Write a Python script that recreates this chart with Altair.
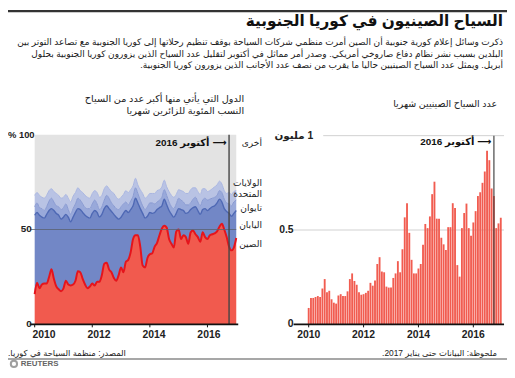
import altair as alt
import pandas as pd

# ---------------- data ----------------
months = pd.date_range("2010-01-01", "2017-01-01", freq="MS")

# Chinese visitors per month, millions
china_visitors = [
    0.087, 0.14, 0.14, 0.145, 0.15, 0.145, 0.19, 0.24, 0.17, 0.178, 0.133, 0.115,
    0.11, 0.153, 0.16, 0.15, 0.15, 0.175, 0.24, 0.27, 0.23, 0.21, 0.17, 0.157,
    0.16, 0.167, 0.178, 0.22, 0.205, 0.232, 0.32, 0.356, 0.28, 0.276, 0.2, 0.195,
    0.195, 0.246, 0.27, 0.335, 0.276, 0.398, 0.567, 0.642, 0.485, 0.342, 0.27, 0.27,
    0.296, 0.32, 0.422, 0.532, 0.51, 0.572, 0.69, 0.756, 0.56, 0.56, 0.459, 0.424,
    0.394, 0.515, 0.515, 0.642, 0.616, 0.314, 0.253, 0.51, 0.59, 0.64, 0.51, 0.47,
    0.54, 0.60, 0.68, 0.70, 0.75, 0.81, 0.92, 0.87, 0.72, 0.68, 0.51, 0.535,
    0.565,
]

# share of visitors, percent
china_share = [
    16, 22, 19, 21, 21.5, 21.5, 25, 29, 24, 20, 18.5, 17.5,
    19, 23, 21, 20.5, 21, 23, 28, 27.5, 24, 21, 19, 20,
    21.5, 20.5, 22.5, 22.5, 26, 32, 32.5, 29, 27.5, 24.5, 23, 26,
    30, 27.5, 33, 34, 38, 45, 47, 47, 41, 31, 30, 35,
    37, 37.5, 41, 43, 47, 50.5, 52, 51, 45, 42.5, 40.5, 49,
    50, 45, 47, 46, 42.5, 48.5, 49.5, 47.5, 46, 43.5, 48.5, 46,
    45, 47, 47.5, 48, 49, 51.5, 53, 50, 46, 41, 39, 40.5,
    45.5,
]
# upper edge of the Japan band (China + Japan), percent
china_japan_top = [
    57.5, 59, 57.5, 56.5, 56, 58, 60, 61, 60, 58.5, 57.5, 55.5,
    56.5, 58, 56.5, 54, 56.5, 59, 61, 60.5, 59, 57.5, 56.5, 56,
    58.5, 60, 59, 56.5, 58, 61, 62.5, 61, 59.5, 58, 56.5, 55.5,
    56.5, 58.5, 60, 59, 60.5, 62.5, 66.5, 64, 61, 58.5, 56, 57,
    59, 58.5, 59, 60.5, 61.5, 62.5, 66, 63, 60, 58, 56.5, 58.5,
    61, 60.5, 60, 58.5, 59, 60.5, 61.5, 62, 60, 58, 60.5, 61,
    60, 61, 62, 62.5, 64, 66, 64.5, 61, 59.5, 58.5, 57, 58.5,
    60,
]
taiwan_share = [
    4.5, 5, 4, 4.5, 4, 4, 5, 5.5, 4.5, 4, 4.5, 5,
    5, 5.5, 4, 4, 4.5, 4.5, 5.5, 5, 4.5, 4, 4.5, 5,
    5, 5.5, 4.5, 4, 4, 4.5, 5.5, 5.5, 4.5, 4.5, 4.5, 5,
    5.5, 5, 4.5, 4, 4.5, 5, 5.5, 5, 4.5, 4, 4.5, 5,
    5, 5.5, 4.5, 4, 4, 4.5, 5, 5, 4.5, 4, 4.5, 5,
    5.5, 5, 4.5, 4.5, 4, 3.5, 4.5, 5, 4.5, 4.5, 5, 5.5,
    5.5, 5, 4.5, 4.5, 4, 4.5, 5, 5, 4.5, 5, 5.5, 6,
    5.5,
]
us_share = [
    6, 5.5, 6.5, 6, 6.5, 6, 5.5, 5, 5.5, 6.5, 6, 6,
    5.5, 5, 6, 6.5, 6.5, 6, 5.5, 5, 6, 6.5, 6, 5.5,
    5.5, 5, 6, 6.5, 6, 6, 5, 5, 6, 6.5, 6, 5.5,
    5, 5, 6, 6.5, 6, 5.5, 5, 4.5, 5.5, 6.5, 6, 5.5,
    5, 5, 5.5, 6, 5.5, 5.5, 5, 4.5, 5.5, 6, 6, 5,
    4.5, 5, 5.5, 6, 6, 7, 6, 5, 5.5, 6, 6, 5,
    4.5, 4.5, 5, 5.5, 5.5, 5, 4.5, 4.5, 5, 6, 6, 5.5,
    5,
]

year_ticks = [2010, 2012, 2014, 2016]
left_ticks = [0, 50, 100]
left_tick_labels = ["0", "50", "% 100"]
right_ticks = [0, 0.5, 1.0]
right_tick_labels = ["0", "0.5", "1 مليون"]
marker_time = [2016.75]  # October 2016

title = "السياح الصينيون في كوريا الجنوبية"
intro = [
    "ذكرت وسائل إعلام كورية جنوبية أن الصين أمرت منظمي شركات السياحة بوقف تنظيم رحلاتها إلى كوريا الجنوبية مع تصاعد التوتر بين",
    "البلدين بسبب نشر نظام دفاع صاروخي أمريكي. وصدر أمر مماثل في أكتوبر لتقليل عدد السياح الذين يزورون كوريا الجنوبية بحلول",
    "أبريل. ويمثل عدد السياح الصينيين حاليا ما يقرب من نصف عدد الأجانب الذين يزورون كوريا الجنوبية.",
]
left_head = ["الدول التي يأتي منها أكبر عدد من السياح", "النسب المئوية للزائرين شهريا"]
right_head = "عدد السياح الصينيين شهريا"
marker_label = "⟶ أكتوبر 2016"
series_names = ["أخرى", "الولايات", "المتحدة", "تايوان", "اليابان", "الصين"]
source_txt = "المصدر: منظمة السياحة في كوريا."
note_txt = "ملحوظة: البيانات حتى يناير 2017."

# ---------------- frame ----------------
t = [d.year + (d.month - 1) / 12 for d in months]
df = pd.DataFrame({
    "t": t,
    "visitors": china_visitors,
    "china": china_share,
    "cj": china_japan_top,
    "taiwan": taiwan_share,
    "us": us_share,
})
df["cjt"] = df["cj"] + df["taiwan"]
df["cjtu"] = df["cjt"] + df["us"]
df["full"] = 100.0
df["zero"] = 0.0

W, H = 505, 362
FONT = "Liberation Sans, DejaVu Sans"


def rtl(s):
    return "\u202b" + s + "\u202c"


LX = alt.Scale(domain=[2010, 2017], range=[27, 231])
LXA = alt.Scale(domain=[2010, 2016], range=[36.5, 203.3])  # left axis labels as placed in the original
LY = alt.Scale(domain=[0, 100], range=[318, 126])
RX = alt.Scale(domain=[2010, 2017], range=[304.3, 498.7])
RY = alt.Scale(domain=[0, 1], range=[318, 127])

base = alt.Chart(df)


def band(lo, hi, color):
    return base.mark_area(color=color, interpolate="monotone").encode(
        x=alt.X("t:Q", scale=LX, axis=None),
        y=alt.Y(f"{hi}:Q", scale=LY, axis=None),
        y2=f"{lo}:Q",
    )


def edge(col, color, width):
    return base.mark_line(color=color, strokeWidth=width, interpolate="monotone").encode(
        x=alt.X("t:Q", scale=LX, axis=None),
        y=alt.Y(f"{col}:Q", scale=LY, axis=None),
    )


def txt(s, x, y, size=10, align="right", weight="normal", color="#222"):
    return alt.Chart(pd.DataFrame({"s": [s]})).mark_text(
        align=align, baseline="middle", fontSize=size, fontWeight=weight,
        color=color, font=FONT,
    ).encode(x=alt.value(x), y=alt.value(y), text="s:N")


layers = []

# top rule
layers.append(alt.Chart(pd.DataFrame({"a": [0]})).mark_rule(color="#333", strokeWidth=2.5)
              .encode(x=alt.value(0), x2=alt.value(W), y=alt.value(1)))
layers.append(txt(rtl(title), 501, 11, size=15.5, weight="bold", color="#111"))
for i, line in enumerate(intro):
    layers.append(txt(rtl(line), 501, 32 + 12 * i, size=9.1, color="#1a1a1a"))

# ---------------- left panel ----------------
layers += [
    band("cjtu", "full", "#e3e3e3"),
    band("cjt", "cjtu", "#b9c3e4"),
    band("cj", "cjt", "#99a9da"),
    band("china", "cj", "#7287c6"),
    edge("cjtu", "#a9b5df", 1),
    edge("cjt", "#8798d0", 1),
    edge("cj", "#4e68b4", 1.4),
    base.mark_area(color="#f15a4e", interpolate="monotone").encode(
        x=alt.X("t:Q", scale=LX, axis=None), y=alt.Y("china:Q", scale=LY, axis=None)),
    edge("china", "#e5141c", 2),
]
# 50% gridline
layers.append(alt.Chart(pd.DataFrame({"v": [50]})).mark_rule(color="#5a6070", strokeWidth=0.8)
              .encode(y=alt.Y("v:Q", scale=LY, axis=None), x=alt.value(23), x2=alt.value(231)))
# October marker
layers.append(alt.Chart(pd.DataFrame({"t": marker_time, "lo": [0], "hi": [100]}))
              .mark_rule(color="#444", strokeWidth=1.4)
              .encode(x=alt.X("t:Q", scale=LX, axis=None), y=alt.Y("lo:Q", scale=LY, axis=None), y2="hi:Q"))
# baseline + ticks
layers.append(alt.Chart(pd.DataFrame({"v": [0]})).mark_rule(color="#111", strokeWidth=2)
              .encode(y=alt.Y("v:Q", scale=LY, axis=None), x=alt.value(22), x2=alt.value(233)))
layers.append(alt.Chart(pd.DataFrame({"t": year_ticks})).mark_rule(color="#111", strokeWidth=1)
              .encode(x=alt.X("t:Q", scale=LX, axis=None), y=alt.value(318), y2=alt.value(321)))
layers.append(alt.Chart(pd.DataFrame({"t": year_ticks, "s": [str(y) for y in year_ticks]}))
              .mark_text(fontSize=10.5, fontWeight="bold", color="#222", font=FONT, baseline="middle")
              .encode(x=alt.X("t:Q", scale=LXA, axis=None), y=alt.value(329), text="s:N"))
layers.append(alt.Chart(pd.DataFrame({"v": left_ticks[:2], "s": left_tick_labels[:2]}))
              .mark_text(fontSize=10, fontWeight="bold", color="#222", font=FONT, align="right", baseline="middle")
              .encode(y=alt.Y("v:Q", scale=LY, axis=None), x=alt.value(24), text="s:N"))
layers.append(alt.Chart(pd.DataFrame({"v": left_ticks[2:], "s": left_tick_labels[2:]}))
              .mark_text(fontSize=9.5, fontWeight="bold", color="#222", font=FONT, align="left", baseline="middle")
              .encode(y=alt.Y("v:Q", scale=LY, axis=None), x=alt.value(0), text="s:N"))
layers.append(txt(rtl(marker_label), 221, 134, size=10, weight="bold", color="#111"))
layers.append(txt(rtl(left_head[0]), 239, 90, size=9.8))
layers.append(txt(rtl(left_head[1]), 239, 102, size=9.8))
for name, yy in zip(series_names, [134, 175, 186, 200, 217, 237]):
    layers.append(txt(rtl(name), 257, yy, size=9.2))

# ---------------- right panel ----------------
layers.append(alt.Chart(pd.DataFrame({"v": [0.5]})).mark_rule(color="#d0d0d0", strokeWidth=1)
              .encode(y=alt.Y("v:Q", scale=RY, axis=None), x=alt.value(289), x2=alt.value(502)))
layers.append(alt.Chart(pd.DataFrame({"v": [1.0]})).mark_rule(color="#d0d0d0", strokeWidth=1)
              .encode(y=alt.Y("v:Q", scale=RY, axis=None), x=alt.value(319), x2=alt.value(502)))
layers.append(base.transform_calculate(x1="datum.t - 0.034", x2="datum.t + 0.034")
              .mark_rect(color="#f15c50")
              .encode(x=alt.X("x1:Q", scale=RX, axis=None), x2="x2:Q",
                      y=alt.Y("visitors:Q", scale=RY, axis=None), y2="zero:Q"))
layers.append(alt.Chart(pd.DataFrame({"t": marker_time, "lo": [0], "hi": [1.0]}))
              .mark_rule(color="#444", strokeWidth=1.2)
              .encode(x=alt.X("t:Q", scale=RX, axis=None), y=alt.Y("lo:Q", scale=RY, axis=None), y2="hi:Q"))
layers.append(alt.Chart(pd.DataFrame({"v": [0]})).mark_rule(color="#111", strokeWidth=2)
              .encode(y=alt.Y("v:Q", scale=RY, axis=None), x=alt.value(289), x2=alt.value(502)))
layers.append(alt.Chart(pd.DataFrame({"t": year_ticks})).mark_rule(color="#111", strokeWidth=1)
              .encode(x=alt.X("t:Q", scale=RX, axis=None), y=alt.value(318), y2=alt.value(321)))
layers.append(alt.Chart(pd.DataFrame({"t": year_ticks, "s": [str(y) for y in year_ticks]}))
              .mark_text(fontSize=10.5, fontWeight="bold", color="#222", font=FONT, baseline="middle")
              .encode(x=alt.X("t:Q", scale=RX, axis=None), y=alt.value(329), text="s:N"))
layers.append(alt.Chart(pd.DataFrame({"v": right_ticks[:2], "s": right_tick_labels[:2]}))
              .mark_text(fontSize=10.5, fontWeight="bold", color="#222", font=FONT, align="right", baseline="middle")
              .encode(y=alt.Y("v:Q", scale=RY, axis=None), x=alt.value(289), text="s:N"))
layers.append(alt.Chart(pd.DataFrame({"v": right_ticks[2:], "s": [rtl(right_tick_labels[2])]}))
              .mark_text(fontSize=10.5, fontWeight="bold", color="#222", font=FONT, align="right", baseline="middle")
              .encode(y=alt.Y("v:Q", scale=RY, axis=None), x=alt.value(309), text="s:N"))
layers.append(txt(rtl(marker_label), 489, 133, size=10, weight="bold", color="#111"))
layers.append(txt(rtl(right_head), 495, 95, size=9.6))

# ---------------- footer ----------------
layers.append(txt(rtl(source_txt), 0, 347, size=8.5, align="left"))
layers.append(txt(rtl(note_txt), 495, 347, size=8.5))
layers.append(alt.Chart(pd.DataFrame({"a": [0]})).mark_rule(color="#8a8a8a", strokeWidth=1.5)
              .encode(x=alt.value(0), x2=alt.value(W), y=alt.value(353)))
layers.append(alt.Chart(pd.DataFrame({"a": [0]})).mark_point(shape="circle", size=40, color="#777", filled=False, strokeWidth=2)
              .encode(x=alt.value(6), y=alt.value(358)))
layers.append(txt("REUTERS", 13, 358, size=8, align="left", weight="bold", color="#666"))

chart = (
    alt.layer(*layers)
    .resolve_scale(x="independent", y="independent")
    .properties(width=W, height=H, padding=0, autosize="none", background="white")
    .configure_view(stroke=None)
)

chart.save("out.html", embed_options={"renderer": "svg", "actions": False})
